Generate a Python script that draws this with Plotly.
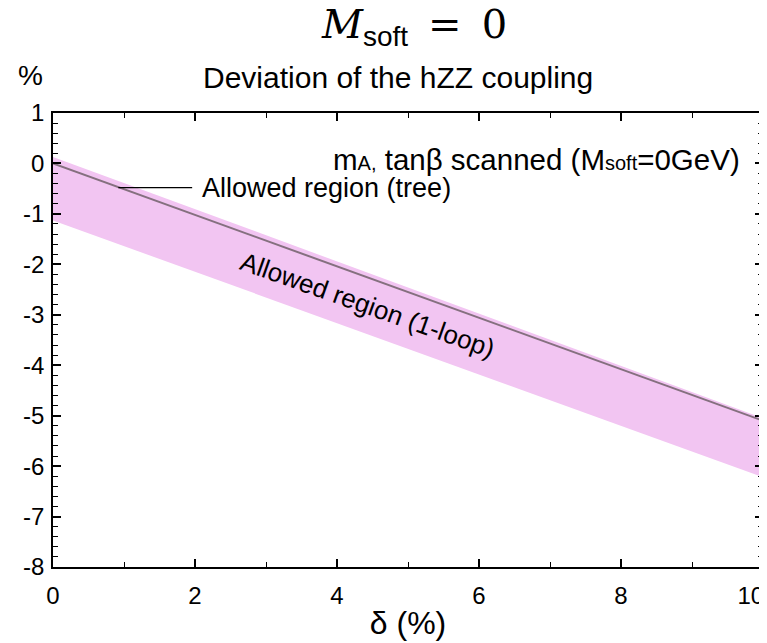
import plotly.graph_objects as go

# Data
delta = [0, 10]
tree_line = [0.0, -5.1]
loop_upper = [0.13, -5.05]
loop_lower = [-1.13, -6.22]

y_ticks = [1, 0, -1, -2, -3, -4, -5, -6, -7, -8]
y_ticktext = ["1", "0", "-1", "-2", "-3", "-4", "-5", "-6", "-7", "-8"]
x_ticks = [0, 2, 4, 6, 8, 10]
x_ticktext = ["0", "2", "4", "6", "8",
              "10<span style='color:white;font-size:22px'>00</span>"]

FONT = "Liberation Sans, Arial, sans-serif"
BAND = "#F2C5F2"

fig = go.Figure()
fig.add_trace(go.Scatter(x=delta, y=loop_lower, mode="lines", line=dict(width=0, color=BAND),
                         showlegend=False, hoverinfo="skip"))
fig.add_trace(go.Scatter(x=delta, y=loop_upper, mode="lines", line=dict(width=0, color=BAND),
                         fill="tonexty", fillcolor=BAND, showlegend=False, hoverinfo="skip"))
fig.add_trace(go.Scatter(x=delta, y=tree_line, mode="lines", line=dict(width=2, color="#85707F"),
                         showlegend=False))

axis_common = dict(showgrid=False, zeroline=False, showline=True, linecolor="black", linewidth=1.5,
                   mirror="allticks", ticks="inside", tickcolor="black", tickwidth=1.5,
                   automargin=False, ticklabeloverflow="allow",
                   tickfont=dict(family=FONT, size=24, color="black"))

fig.update_xaxes(range=[0, 10], tickvals=x_ticks, ticktext=x_ticktext, ticklen=8,
                 ticklabelstandoff=6,
                 minor=dict(dtick=1, ticks="inside", ticklen=5, tickcolor="black", tickwidth=1),
                 title=dict(text="δ (%)", font=dict(family=FONT, size=32, color="black"), standoff=4),
                 **axis_common)
fig.update_yaxes(range=[-8, 1], tickvals=y_ticks, ticktext=y_ticktext, ticklen=8,
                 ticklabelstandoff=2,
                 minor=dict(dtick=0.2, ticks="inside", ticklen=5, tickcolor="black", tickwidth=1),
                 **axis_common)

anns = [
    dict(x=0.5, y=1, xref="paper", yref="paper", xshift=6, yshift=87, xanchor="center", yanchor="middle",
         text="<i>M</i><span style='font-family:Liberation Sans'><sub>soft</sub></span>\u2002=\u20020",
         font=dict(family="DejaVu Serif, Liberation Serif, serif", size=40, color="black"), showarrow=False),
    dict(x=0.5, y=1, xref="paper", yref="paper", xshift=-10, yshift=36, xanchor="center", yanchor="middle",
         text="Deviation of the hZZ coupling", font=dict(family=FONT, size=30, color="black"), showarrow=False),
    dict(x=0, y=1, xref="paper", yref="paper", xshift=-23, yshift=38, xanchor="center", yanchor="middle",
         text="%", font=dict(family=FONT, size=28, color="black"), showarrow=False),
    dict(x=9.7, y=0.08, xref="x", yref="y", xanchor="right", yanchor="middle",
         text="m<span style='font-size:20px'>A,</span> tanβ scanned (M<span style='font-size:20px'>soft</span>=0GeV)",
         font=dict(family=FONT, size=29.5, color="black"), showarrow=False),
    dict(x=2.07, y=-0.49, xref="x", yref="y", xanchor="left", yanchor="middle",
         text="Allowed region (tree)", font=dict(family=FONT, size=27, color="black"), showarrow=False),
    dict(x=4.43, y=-2.8, xref="x", yref="y", xanchor="center", yanchor="middle", textangle=19.5,
         text="Allowed region (1-loop)", font=dict(family=FONT, size=26, color="black"), showarrow=False),
]
fig.update_layout(annotations=anns)
fig.add_shape(type="line", x0=0.92, x1=1.96, y0=-0.48, y1=-0.48, xref="x", yref="y",
              line=dict(color="black", width=1.2))

# The page body adds an 8px offset; size the figure to fit the window
fig.update_layout(width=759, height=635, margin=dict(l=45, r=4, t=105, b=76),
                  paper_bgcolor="white", plot_bgcolor="white", showlegend=False,
                  font=dict(family=FONT, color="black"))

fig.write_html("out.html")
